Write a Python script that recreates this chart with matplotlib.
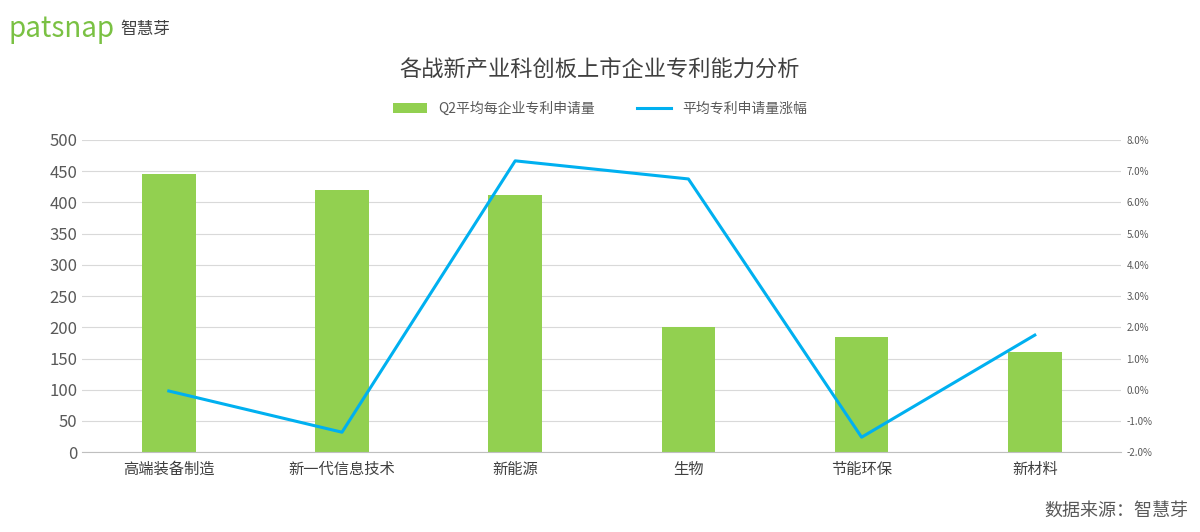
import matplotlib
matplotlib.use("Agg")
import matplotlib.pyplot as plt
import numpy as np
from matplotlib.ticker import FuncFormatter

plt.rcParams["font.family"] = ["Noto Sans CJK SC", "DejaVu Sans"]

categories = ["高端装备制造", "新一代信息技术", "新能源", "生物", "节能环保", "新材料"]
apps = [445, 420, 412, 200, 185, 160]
growth = [-0.0004, -0.0136, 0.0733, 0.0675, -0.0152, 0.0175]

fig = plt.figure(figsize=(12, 5.32), dpi=100)
ax = fig.add_axes([0.0685, 0.15, 0.866, 0.587])
x = np.arange(len(categories))
ax.bar(x, apps, width=0.31, color="#92D050", label="Q2平均每企业专利申请量", zorder=2)
ax.set_ylim(0, 500)
ax.set_yticks(range(0, 501, 50))
ax.set_xlim(-0.5, 5.5)
ax.set_xticks(x)
ax.set_xticklabels(categories, fontsize=11, color="#404040")
ax.tick_params(axis="y", labelsize=12, colors="#595959", length=0)
ax.tick_params(axis="x", length=0, pad=6)
ax.grid(axis="y", color="#D9D9D9", lw=0.8, zorder=0)
for s in ["top", "right", "left"]:
    ax.spines[s].set_visible(False)
ax.spines["bottom"].set_color("#BFBFBF")

ax2 = ax.twinx()
ax2.plot(x, growth, color="#00B0F0", lw=2.2, label="平均专利申请量涨幅")
ax2.set_ylim(-0.02, 0.08)
ax2.set_yticks(np.arange(-0.02, 0.0801, 0.01))
ax2.yaxis.set_major_formatter(FuncFormatter(lambda v, p: f"{v*100:.1f}%"))
ax2.tick_params(axis="y", labelsize=7, colors="#595959", length=0)
for s in ["top", "right", "left", "bottom"]:
    ax2.spines[s].set_visible(False)

h1, l1 = ax.get_legend_handles_labels()
h2, l2 = ax2.get_legend_handles_labels()
fig.legend(h1 + h2, l1 + l2, loc="center", bbox_to_anchor=(0.5, 0.795), ncol=2,
           frameon=False, fontsize=10, labelcolor="#595959", handlelength=2.5, columnspacing=3)

fig.text(0.5, 0.87, "各战新产业科创板上市企业专利能力分析", ha="center", va="center",
         fontsize=16, color="#404040")
fig.text(0.007, 0.945, "patsnap", fontsize=20, color="#7AC143", va="center")
fig.text(0.1, 0.945, "智慧芽", fontsize=12, color="#404040", va="center")
fig.text(0.99, 0.04, "数据来源：智慧芽", ha="right", va="center", fontsize=13, color="#595959")

fig.savefig("out.png", dpi=100)
